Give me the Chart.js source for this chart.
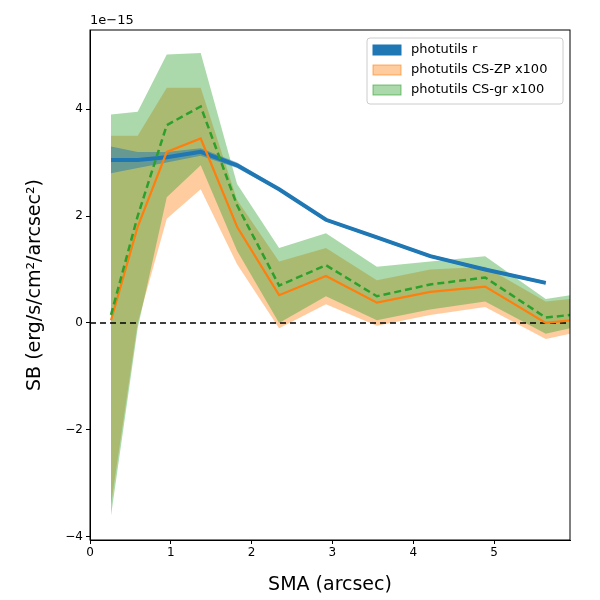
<!DOCTYPE html>
<html>
<head>
<meta charset="utf-8">
<title>SB profile</title>
<script src="https://cdn.jsdelivr.net/npm/chart.js"></script>
<style>body{margin:0;background:#fff}</style>
</head>
<body>
<div style="width:600px;height:600px;"><canvas id="c"></canvas></div>
<script>
// values in units of 1e-15 erg/s/cm2/arcsec2
const sma = [0.26, 0.59, 0.95, 1.37, 1.82, 2.34, 2.92, 3.55, 4.21, 4.89, 5.64, 5.94];
const rVal = [3.05, 3.05, 3.1, 3.2, 2.95, 2.5, 1.93, 1.6, 1.25, 1.0, 0.75];
const rHi = [3.3, 3.2, 3.2, 3.27, 3.0, 2.53, 1.96, 1.63, 1.28, 1.03, 0.78];
const rLo = [2.8, 2.9, 3.0, 3.13, 2.9, 2.47, 1.9, 1.57, 1.22, 0.97, 0.72];
const zpVal = [0.05, 1.8, 3.2, 3.45, 1.8, 0.52, 0.88, 0.38, 0.58, 0.68, 0.0, 0.05];
const zpHi = [3.5, 3.5, 4.4, 4.4, 2.3, 1.15, 1.4, 0.8, 1.0, 1.05, 0.4, 0.45];
const zpLo = [-3.4, 0.0, 1.95, 2.5, 1.1, -0.1, 0.35, -0.05, 0.15, 0.3, -0.3, -0.2];
const grVal = [0.15, 2.0, 3.7, 4.05, 2.2, 0.7, 1.08, 0.5, 0.72, 0.85, 0.1, 0.15];
const grHi = [3.9, 3.95, 5.02, 5.05, 2.6, 1.4, 1.68, 1.05, 1.15, 1.25, 0.45, 0.52];
const grLo = [-3.6, -0.1, 2.35, 2.95, 1.35, 0.0, 0.5, 0.05, 0.25, 0.4, -0.2, -0.1];
const xTicks = [0, 1, 2, 3, 4, 5];
const yTicks = [-4, -2, 0, 2, 4];

const pts = ys => ys.map((y, i) => ({x: sma[i], y: y}));
const font = 'DejaVu Sans';
const band = (data, fill, color) => ({data: pts(data), fill: fill, backgroundColor: color,
  borderColor: 'rgba(0,0,0,0)', borderWidth: 0, pointRadius: 0, tension: 0});

// Chart.js draws index 0 last (on top): lines first, then bands
const datasets = [
  {label: 'photutils CS-gr x100', data: pts(grVal), borderColor: '#2ca02c', borderWidth: 2.5, borderDash: [7, 4], pointRadius: 0, fill: false},
  {label: 'photutils CS-ZP x100', data: pts(zpVal), borderColor: '#ff7f0e', borderWidth: 2.2, pointRadius: 0, fill: false},
  {label: 'photutils r', data: pts(rVal), borderColor: '#1f77b4', borderWidth: 4, pointRadius: 0, fill: false},
  {data: [{x: 0, y: 0}, {x: 5.94, y: 0}], borderColor: '#000', borderWidth: 1.5, borderDash: [6, 4], pointRadius: 0, fill: false},
  band(rHi, false, 'rgba(31,119,180,0.5)'),
  band(rLo, '-1', 'rgba(31,119,180,0.5)'),
  band(grHi, false, 'rgba(44,160,44,0.4)'),
  band(grLo, '-1', 'rgba(44,160,44,0.4)'),
  band(zpHi, false, 'rgba(255,127,14,0.4)'),
  band(zpLo, '-1', 'rgba(255,127,14,0.4)')
];

const legendItems = [
  ['photutils r', '#1f77b4', '#1f77b4'],
  ['photutils CS-ZP x100', 'rgba(255,127,14,0.4)', 'rgba(255,127,14,0.6)'],
  ['photutils CS-gr x100', 'rgba(44,160,44,0.4)', 'rgba(44,160,44,0.6)']
];

const extras = {
  id: 'extras',
  afterDraw(chart) {
    const {ctx, chartArea: a} = chart;
    ctx.save();
    ctx.strokeStyle = '#000'; ctx.lineWidth = 1;
    ctx.strokeRect(a.left, a.top, a.right - a.left, a.bottom - a.top);
    ctx.fillStyle = '#000'; ctx.font = '13px ' + font;
    ctx.textBaseline = 'bottom'; ctx.textAlign = 'left';
    ctx.fillText('1e\u221215', a.left, a.top - 3);
    // legend
    const lx = a.right - 203, ly = a.top + 8, w = 196, h = 66;
    ctx.fillStyle = 'rgba(255,255,255,0.8)';
    ctx.strokeStyle = '#ccc';
    ctx.beginPath(); ctx.roundRect(lx, ly, w, h, 3); ctx.fill(); ctx.stroke();
    ctx.textBaseline = 'middle'; ctx.font = '13px ' + font;
    legendItems.forEach((it, i) => {
      const y = ly + 12 + i * 20;
      ctx.fillStyle = it[1]; ctx.fillRect(lx + 6, y - 5, 28, 10);
      ctx.strokeStyle = it[2]; ctx.strokeRect(lx + 6, y - 5, 28, 10);
      ctx.fillStyle = '#000'; ctx.fillText(it[0], lx + 44, y);
    });
    ctx.restore();
  }
};

new Chart(document.getElementById('c'), {
  type: 'line',
  data: {datasets: datasets},
  plugins: [extras],
  options: {
    animation: false, responsive: true, maintainAspectRatio: false,
    layout: {padding: {top: 30, right: 30, left: 0, bottom: 0}},
    plugins: {legend: {display: false}, tooltip: {enabled: false}, filler: {propagate: false}},
    scales: {
      x: {
        type: 'linear', min: 0, max: 5.94,
        afterBuildTicks: s => { s.ticks = xTicks.map(v => ({value: v})); },
        afterFit: s => { s.height = 60; },
        grid: {drawOnChartArea: false, tickLength: 4, color: '#000'},
        border: {color: '#000'},
        ticks: {color: '#000', font: {family: font, size: 12}, padding: 2},
        title: {display: true, text: 'SMA (arcsec)', color: '#000', font: {family: font, size: 19}, padding: {top: 2}}
      },
      y: {
        type: 'linear', min: -4.06, max: 5.48,
        afterBuildTicks: s => { s.ticks = yTicks.map(v => ({value: v})); },
        afterFit: s => { s.width = 90; },
        grid: {drawOnChartArea: false, tickLength: 4, color: '#000'},
        border: {color: '#000'},
        ticks: {color: '#000', font: {family: font, size: 12}, padding: 3,
          callback: v => String(v).replace('-', '\u2212')},
        title: {display: true, text: 'SB (erg/s/cm\u00b2/arcsec\u00b2)', color: '#000', font: {family: font, size: 19}, padding: {top: 24, bottom: 0}}
      }
    }
  }
});
</script>
</body>
</html>
